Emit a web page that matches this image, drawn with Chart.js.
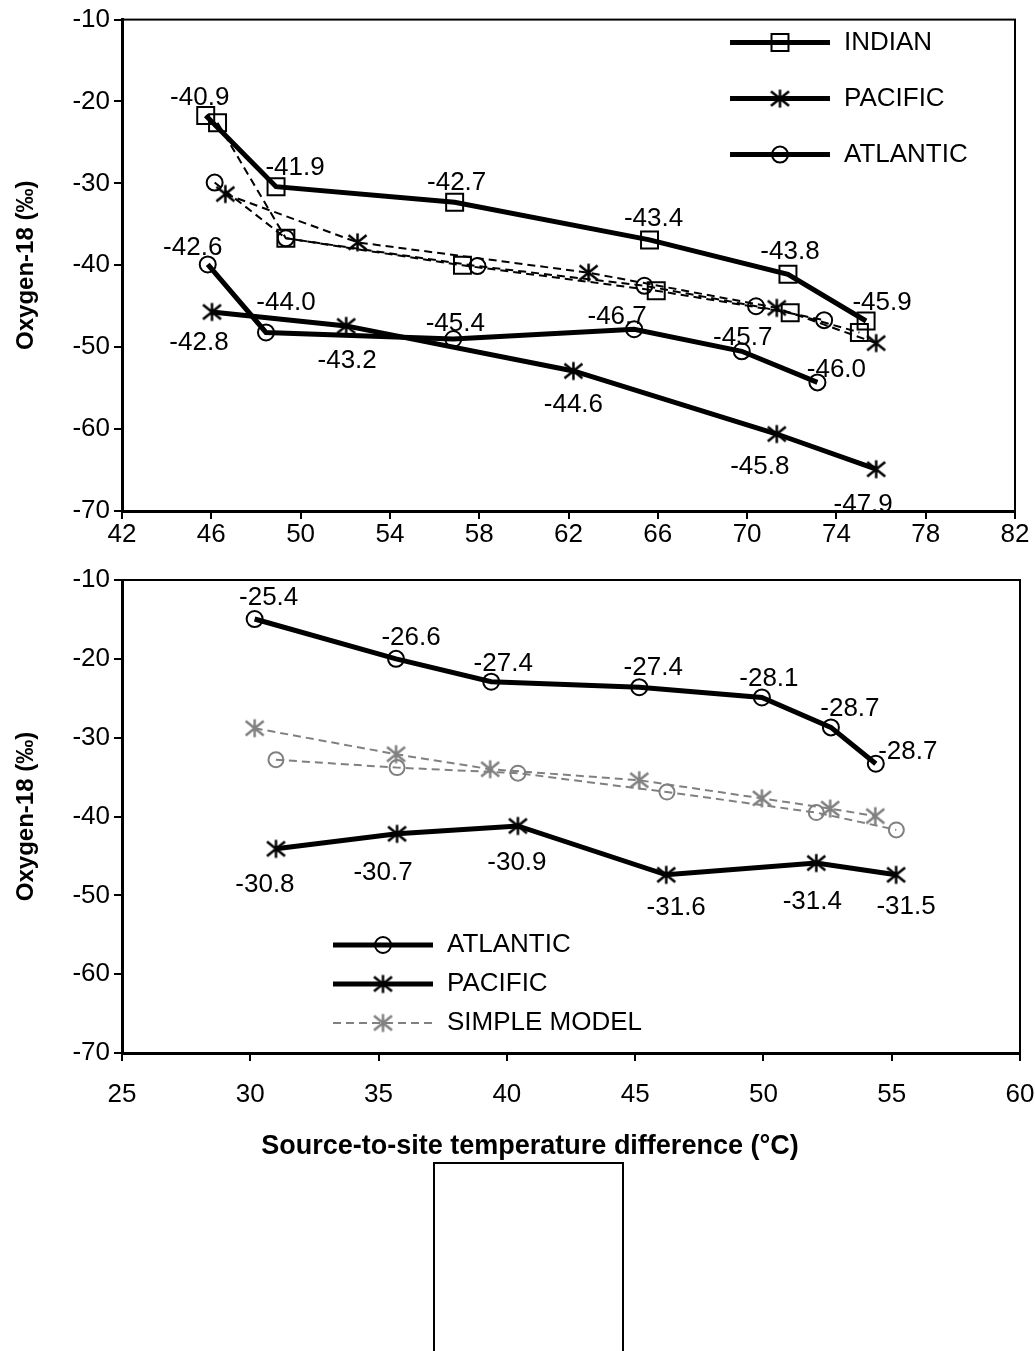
<!DOCTYPE html>
<html>
<head>
<meta charset="utf-8">
<script src="https://cdn.jsdelivr.net/npm/chart.js@4.4.1/dist/chart.umd.min.js"></script>
<style>
body { margin: 0; background: #fff; width: 1035px; height: 1351px; overflow: hidden; position: relative; }
#topChart { position: absolute; left: 0; top: 0; }
#bottomChart { position: absolute; left: 0; top: 548px; }
.blank-box { position: absolute; left: 433px; top: 1162px; width: 187px; height: 220px; border: 2px solid #000; }
</style>
</head>
<body>
<canvas id="topChart" width="1035" height="548"></canvas>
<canvas id="bottomChart" width="1035" height="630"></canvas>
<div class="blank-box"></div>
<script>
// ---- upper panel: measured values ----
var indianX = [45.75, 48.9, 56.9, 65.63, 71.83, 75.33];
var indianY = [-21.7, -30.4, -32.3, -36.9, -41.1, -46.8];
var indianText = ['-40.9', '-41.9', '-42.7', '-43.4', '-43.8', '-45.9'];

var pacificX = [46.03, 52.04, 62.22, 71.33, 75.78];
var pacificY = [-45.7, -47.4, -52.9, -60.6, -64.9];
var pacificText = ['-42.8', '-43.2', '-44.6', '-45.8', '-47.9'];

var atlanticX = [45.84, 48.45, 56.84, 64.94, 69.76, 73.15];
var atlanticY = [-39.9, -48.2, -49.0, -47.8, -50.5, -54.3];
var atlanticText = ['-42.6', '-44.0', '-45.4', '-46.7', '-45.7', '-46.0'];

// upper panel: model curves (dashed)
var indianModelX = [46.28, 49.34, 57.25, 65.93, 71.93, 75.03];
var indianModelY = [-22.6, -36.7, -40.0, -43.1, -45.8, -48.2];
var pacificModelX = [46.63, 52.55, 62.9, 71.33, 75.78];
var pacificModelY = [-31.3, -37.2, -40.9, -45.2, -49.5];
var atlanticModelX = [46.15, 49.34, 57.92, 65.4, 70.4, 73.45];
var atlanticModelY = [-29.9, -36.7, -40.1, -42.5, -45.0, -46.7];

// ---- lower panel ----
var atl2X = [30.17, 35.68, 39.39, 45.16, 49.94, 52.63, 54.38];
var atl2Y = [-14.95, -20.0, -22.9, -23.6, -24.9, -28.7, -33.3];
var atl2Text = ['-25.4', '-26.6', '-27.4', '-27.4', '-28.1', '-28.7', '-28.7'];

var pac2X = [31.0, 35.72, 40.43, 46.21, 52.06, 55.17];
var pac2Y = [-44.1, -42.2, -41.2, -47.4, -45.9, -47.4];
var pac2Text = ['-30.8', '-30.7', '-30.9', '-31.6', '-31.4', '-31.5'];

var model2X = [30.17, 35.68, 39.35, 45.16, 49.94, 52.6, 54.36];
var model2Y = [-28.8, -32.1, -34.0, -35.4, -37.7, -39.0, -39.95];
var pacModel2X = [31.0, 35.72, 40.43, 46.24, 52.06, 55.18];
var pacModel2Y = [-32.8, -33.8, -34.5, -36.9, -39.5, -41.7];

var yTicks = [-70, -60, -50, -40, -30, -20, -10];

// text nudges for the value labels (dx, dy from the marker)
var indianNudge = [[-6, -18], [19, -19], [2, -19], [4, -21], [2, -22], [16, -18]];
var pacificNudge = [[-13, 31], [1, 35], [0, 34], [-17, 33], [-13, 36]];
var atlanticNudge = [[-15, -17], [20, -30], [2, -15], [-17, -12], [1, -13], [19, -13]];
var atl2Nudge = [[14, -21], [15, -21], [12, -18], [14, -19], [7, -19], [19, -19], [32, -12]];
var pac2Nudge = [[-11, 36], [-14, 39], [-1, 37], [10, 33], [-4, 39], [10, 32]];

var FONT = '"Liberation Sans", Arial, Helvetica, sans-serif';
Chart.defaults.font.family = FONT;
Chart.defaults.color = '#000';

function pts(xs, ys) {
    return xs.map(function (x, i) { return { x: x, y: ys[i] }; });
}

function asterisk(color, r, lw) {
    var c = document.createElement('canvas');
    var s = Math.ceil(2 * r + lw + 2);
    c.width = s; c.height = s;
    var g = c.getContext('2d');
    var m = s / 2;
    g.strokeStyle = color;
    g.lineWidth = lw;
    g.beginPath();
    g.moveTo(m, m - r); g.lineTo(m, m + r);
    g.moveTo(m - r, m - r * 0.8); g.lineTo(m + r, m + r * 0.8);
    g.moveTo(m - r, m + r * 0.8); g.lineTo(m + r, m - r * 0.8);
    g.stroke();
    return c;
}

var blackStar = asterisk('#000', 9, 2.5);
var greyStar = asterisk('#808080', 9, 2.5);

function series(label, data, opts) {
    var ds = {
        label: label,
        data: data,
        showLine: true,
        borderColor: '#000',
        borderWidth: 5,
        pointBackgroundColor: 'rgba(0,0,0,0)',
        pointBorderColor: '#000',
        pointBorderWidth: 2,
        pointRadius: 8,
        tension: 0
    };
    for (var k in opts) ds[k] = opts[k];
    return ds;
}

var valueLabels = {
    id: 'valueLabels',
    afterDatasetsDraw: function (chart) {
        var ctx = chart.ctx;
        ctx.save();
        ctx.font = '26px ' + FONT;
        ctx.fillStyle = '#000';
        ctx.textAlign = 'center';
        ctx.textBaseline = 'middle';
        chart.data.datasets.forEach(function (ds, i) {
            if (!ds.valueText) return;
            chart.getDatasetMeta(i).data.forEach(function (pt, j) {
                var n = ds.nudge[j];
                ctx.fillText(ds.valueText[j], pt.x + n[0], pt.y + n[1]);
            });
        });
        ctx.restore();
    }
};

var frame = {
    id: 'frame',
    beforeDatasetsDraw: function (chart) {
        var a = chart.chartArea, ctx = chart.ctx;
        ctx.save();
        ctx.strokeStyle = '#000';
        ctx.lineWidth = 2;
        ctx.strokeRect(a.left, a.top, a.right - a.left, a.bottom - a.top);
        ctx.restore();
    }
};

// x-axis caption, placed where the original has it (not centred on the plot)
var caption = {
    id: 'caption',
    afterDraw: function (chart, args, opts) {
        if (!opts.text) return;
        var ctx = chart.ctx;
        ctx.save();
        ctx.font = 'bold 27px ' + FONT;
        ctx.fillStyle = '#000';
        ctx.textAlign = 'center';
        ctx.textBaseline = 'middle';
        ctx.fillText(opts.text, opts.x, opts.y);
        ctx.restore();
    }
};

var lineLegend = {
    id: 'lineLegend',
    afterDraw: function (chart, args, opts) {
        if (!opts.items) return;
        var ctx = chart.ctx, a = chart.chartArea;
        ctx.save();
        opts.items.forEach(function (idx, k) {
            var ds = chart.data.datasets[idx];
            var y = a.top + opts.top + k * opts.gap;
            var x0 = a.left + opts.left;
            ctx.strokeStyle = ds.borderColor;
            ctx.lineWidth = ds.borderWidth;
            ctx.setLineDash(ds.borderDash || []);
            ctx.beginPath();
            ctx.moveTo(x0, y);
            ctx.lineTo(x0 + opts.length, y);
            ctx.stroke();
            ctx.setLineDash([]);
            ctx.fillStyle = ds.pointBackgroundColor;
            ctx.strokeStyle = ds.pointBorderColor;
            ctx.lineWidth = ds.pointBorderWidth;
            Chart.helpers.drawPoint(ctx, {
                pointStyle: ds.pointStyle, radius: ds.pointRadius,
                rotation: 0, borderWidth: ds.pointBorderWidth
            }, x0 + opts.length / 2, y);
            ctx.fillStyle = '#000';
            ctx.font = '26px ' + FONT;
            ctx.textAlign = 'left';
            ctx.textBaseline = 'middle';
            ctx.fillText(ds.label, x0 + opts.length + 14, y);
        });
        ctx.restore();
    }
};

function scales(xmin, xmax, xstep, xHeight, xPad) {
    return {
        x: {
            type: 'linear', min: xmin, max: xmax,
            ticks: { stepSize: xstep, font: { size: 26 }, padding: xPad, maxRotation: 0, autoSkip: false },
            grid: { drawOnChartArea: false, tickLength: 8, color: '#000', lineWidth: 2 },
            border: { color: '#000', width: 3 },
            afterFit: function (s) {
                s.height = xHeight;
                s.paddingLeft = 0;
                s.paddingRight = 0;
            }
        },
        y: {
            type: 'linear', min: -70, max: -10,
            afterBuildTicks: function (s) { s.ticks = yTicks.map(function (v) { return { value: v }; }); },
            ticks: { font: { size: 26 }, padding: 4 },
            grid: { drawOnChartArea: false, tickLength: 8, color: '#000', lineWidth: 2 },
            border: { color: '#000', width: 3 },
            title: { display: true, text: 'Oxygen-18 (‰)', font: { size: 24, weight: 'bold' }, padding: { top: 12, bottom: 0 } },
            afterFit: function (s) { s.width = 122; }
        }
    };
}

new Chart(document.getElementById('topChart'), {
    type: 'scatter',
    data: {
        datasets: [
            series('INDIAN', pts(indianX, indianY), { pointStyle: 'rect', pointRadius: 12, valueText: indianText, nudge: indianNudge }),
            series('PACIFIC', pts(pacificX, pacificY), { pointStyle: blackStar, valueText: pacificText, nudge: pacificNudge }),
            series('ATLANTIC', pts(atlanticX, atlanticY), { pointStyle: 'circle', pointRadius: 8, valueText: atlanticText, nudge: atlanticNudge }),
            series('INDIAN model', pts(indianModelX, indianModelY), { borderWidth: 2, borderDash: [8, 5], pointStyle: 'rect', pointRadius: 12 }),
            series('PACIFIC model', pts(pacificModelX, pacificModelY), { borderWidth: 2, borderDash: [8, 5], pointStyle: blackStar }),
            series('ATLANTIC model', pts(atlanticModelX, atlanticModelY), { borderWidth: 2, borderDash: [8, 5], pointStyle: 'circle', pointRadius: 8 })
        ]
    },
    options: {
        responsive: false,
        animation: false,
        layout: { padding: { top: 19, right: 20, left: 0, bottom: 0 } },
        scales: scales(42, 82, 4, 37, 0),
        plugins: {
            legend: { display: false },
            tooltip: { enabled: false },
            lineLegend: { items: [0, 1, 2], left: 608, top: 23, gap: 56, length: 100 }
        }
    },
    plugins: [frame, valueLabels, lineLegend]
});

new Chart(document.getElementById('bottomChart'), {
    type: 'scatter',
    data: {
        datasets: [
            series('ATLANTIC', pts(atl2X, atl2Y), { pointStyle: 'circle', pointRadius: 8, valueText: atl2Text, nudge: atl2Nudge }),
            series('PACIFIC', pts(pac2X, pac2Y), { pointStyle: blackStar, valueText: pac2Text, nudge: pac2Nudge }),
            series('SIMPLE MODEL', pts(model2X, model2Y), { borderColor: '#808080', borderWidth: 2, borderDash: [8, 5], pointStyle: greyStar, pointBorderColor: '#808080' }),
            series('model (Pacific sites)', pts(pacModel2X, pacModel2Y), { borderColor: '#808080', borderWidth: 2, borderDash: [8, 5], pointStyle: 'circle', pointRadius: 7.5, pointBorderColor: '#808080' })
        ]
    },
    options: {
        responsive: false,
        animation: false,
        layout: { padding: { top: 32, right: 15, left: 0, bottom: 0 } },
        scales: scales(25, 60, 5, 125, 18),
        plugins: {
            legend: { display: false },
            tooltip: { enabled: false },
            lineLegend: { items: [0, 1, 2], left: 211, top: 365, gap: 39, length: 100 },
            caption: { text: 'Source-to-site temperature difference (°C)', x: 530, y: 599 }
        }
    },
    plugins: [frame, valueLabels, lineLegend, caption]
});
</script>
</body>
</html>
